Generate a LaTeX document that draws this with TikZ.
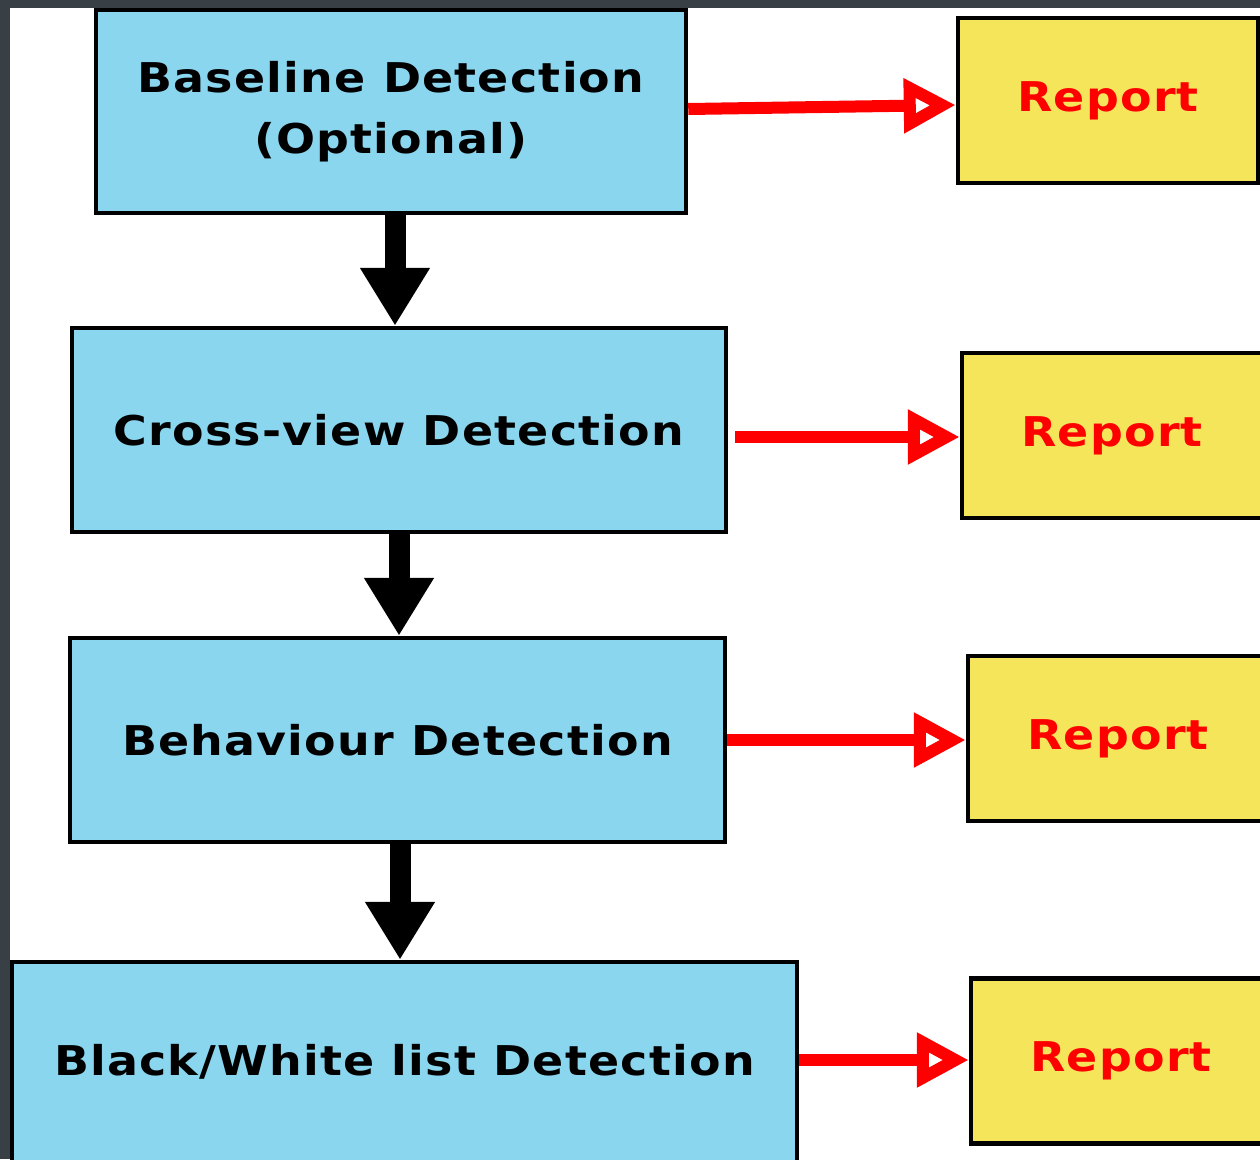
\documentclass[tikz,border=0pt]{standalone}
\usepackage{fontspec}
\setmainfont{DejaVu Sans}
\newfontfamily\boxfont[FakeStretch=1.12,LetterSpace=3]{DejaVu Sans Bold}
\usetikzlibrary{arrows.meta}
\definecolor{bgdark}{HTML}{394045}
\definecolor{boxblue}{HTML}{89D6EE}
\definecolor{repyellow}{HTML}{F5E55B}
\definecolor{arrred}{HTML}{FF0000}
\tikzset{
  stage/.style={draw=black, line width=4.5pt, fill=boxblue, inner sep=0pt, align=center,
    font=\boxfont\fontsize{41}{61}\selectfont, text=black},
  report/.style={draw=black, line width=4.5pt, fill=repyellow, inner sep=0pt,
    minimum width=300pt, minimum height=165pt,
    font=\boxfont\fontsize{41}{61}\selectfont, text=arrred},
  flow/.style={line width=21pt, draw=black, -{Triangle[width=66pt,length=58pt]}},
  redarrow/.style={line width=12pt, draw=arrred, -{Triangle[open,width=52pt,length=52pt]}}
}
\begin{document}
\begin{tikzpicture}[x=1pt,y=-1pt]
\useasboundingbox (0,0) rectangle (1260,1159);
\clip (0,0) rectangle (1260,1159);
\fill[bgdark] (0,0) rectangle (1260,1159);
\fill[white] (10,8) rectangle (1260,1159);

\node[stage, minimum width=590pt, minimum height=203pt] (b1) at (391,111.5) {Baseline Detection\\(Optional)};
\node[stage, minimum width=654pt, minimum height=204pt] (b2) at (399,430) {Cross-view Detection};
\node[stage, minimum width=655pt, minimum height=204pt] (b3) at (397.5,740) {Behaviour Detection};
\node[stage, minimum width=785pt, minimum height=200pt] (b4) at (404.5,1062) {Black/White list Detection};

\node[report] (r1) at (1108,100.5) {Report};
\node[report] (r2) at (1112,435.5) {Report};
\node[report] (r3) at (1118,738.5) {Report};
\node[report] (r4) at (1121,1061) {Report};

\draw[flow] (b1.south -| 395,0) -- (b2.north -| 395,0);
\draw[flow] (b2.south -| 399,0) -- (b3.north -| 399,0);
\draw[flow] (b3.south -| 400,0) -- (b4.north -| 400,0);

\draw[redarrow] (b1.east |- 0,109) -- (r1.west |- 0,105);
\coordinate (s2) at (735,437);
\draw[redarrow] (s2) -- (r2.west |- s2);
\draw[redarrow] (b3.east |- 0,740) -- (r3.west |- 0,740);
\draw[redarrow] (b4.east |- 0,1060) -- (r4.west |- 0,1060);
\end{tikzpicture}
\end{document}
